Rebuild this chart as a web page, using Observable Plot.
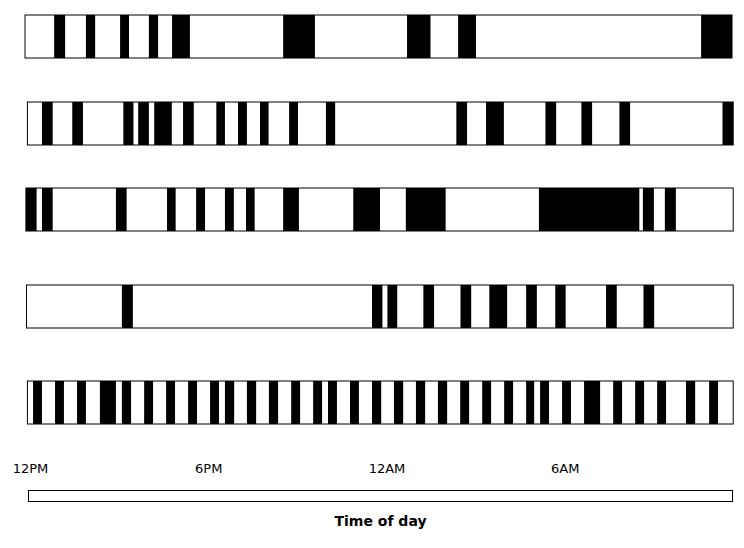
<!DOCTYPE html>
<html>
<head>
<meta charset="utf-8">
<script src="https://cdn.jsdelivr.net/npm/d3@7"></script>
<script src="https://cdn.jsdelivr.net/npm/@observablehq/plot@0.6"></script>
<style>
  body { margin: 0; background: #fff; }
  #chart svg { display: block; }
</style>
</head>
<body>
<div id="chart"></div>
<script>
// Hours since 12PM (noon)
const rowStarts = [-0.10, -0.02, -0.07, -0.05, -0.02];
const rowEnds = [23.70, 23.74, 23.74, 23.74, 23.74];

const row1 = [[0.88,1.25],[1.95,2.26],[3.10,3.40],[4.07,4.38],[4.85,5.45],[8.59,9.66],[12.76,13.55],[14.48,15.08],[22.66,23.70]];
const row2 = [[0.47,0.83],[1.49,1.85],[3.21,3.55],[3.71,4.07],[4.25,4.84],[5.22,5.58],[6.34,6.63],[7.07,7.37],[7.81,8.10],[8.79,9.09],[10.03,10.34],[14.42,14.78],[15.42,16.02],[17.42,17.78],[18.63,18.99],[19.91,20.27],[23.38,23.74]];
const row3 = [[-0.07,0.29],[0.47,0.83],[2.96,3.32],[4.68,4.97],[5.66,5.96],[6.63,6.93],[7.34,7.63],[8.59,9.12],[10.95,11.85],[12.72,14.06],[17.20,20.58],[20.70,21.07],[21.44,21.81]];
const row4 = [[3.16,3.53],[11.58,11.93],[12.10,12.43],[13.31,13.67],[14.56,14.92],[15.53,16.13],[16.77,17.13],[17.75,18.10],[19.46,19.82],[20.72,21.08]];
const row5 = [[0.17,0.47],[0.91,1.21],[1.65,1.95],[2.42,2.96],[3.16,3.47],[3.91,4.21],[4.65,4.95],[5.39,5.69],[6.13,6.43],[6.63,6.94],[7.37,7.68],[8.11,8.42],[8.86,9.16],[9.60,9.90],[10.10,10.40],[10.84,11.14],[11.58,11.89],[12.32,12.63],[13.06,13.37],[13.80,14.11],[14.55,14.85],[15.29,15.59],[16.03,16.33],[16.77,17.04],[17.24,17.54],[17.98,18.28],[18.72,19.26],[19.70,20.00],[20.44,20.74],[21.18,21.48],[22.15,22.46],[22.93,23.23]];

const tickHours = [0, 6, 12, 18];
const tickLabels = ["12PM", "6PM", "12AM", "6AM"];
const axisTitle = "Time of day";

const rows = [row1, row2, row3, row4, row5];
const rowHeights = [87, 86, 97, 96, 74];
const xDomain = [0, 23.7];
const font = {fontFamily: "'DejaVu Sans', Verdana, sans-serif", fontSize: "13px", background: "white", color: "black"};

const chart = document.getElementById("chart");

rows.forEach((stripes, i) => {
  const h = rowHeights[i];
  const extent = [{start: rowStarts[i], end: rowEnds[i]}];
  const p = Plot.plot({
    width: 744,
    height: h,
    marginLeft: 28,
    marginRight: 12,
    marginTop: 15,
    marginBottom: h - 58,
    style: font,
    x: {domain: xDomain, axis: null},
    marks: [
      Plot.rect(extent, {x1: "start", x2: "end", fill: "white"}),
      Plot.rect(stripes, {x1: d => d[0], x2: d => d[1], fill: "black"}),
      Plot.rect(extent, {x1: "start", x2: "end", fill: "none", stroke: "black", strokeWidth: 1})
    ]
  });
  chart.appendChild(p);
});

const ticks = tickHours.map((hr, i) => ({hr, label: tickLabels[i]}));
const axisPlot = Plot.plot({
  width: 744,
  height: 108,
  marginLeft: 28,
  marginRight: 12,
  marginTop: 50,
  marginBottom: 47,
  style: font,
  x: {domain: xDomain, axis: null},
  marks: [
    Plot.frame({stroke: "black", fill: "white"}),
    Plot.text(ticks, {x: "hr", text: "label", frameAnchor: "top", dy: -27, dx: 2, fontSize: 13}),
    Plot.text([axisTitle], {frameAnchor: "bottom", dy: 24, fontSize: 14, fontWeight: "bold"})
  ]
});
chart.appendChild(axisPlot);
</script>
</body>
</html>
